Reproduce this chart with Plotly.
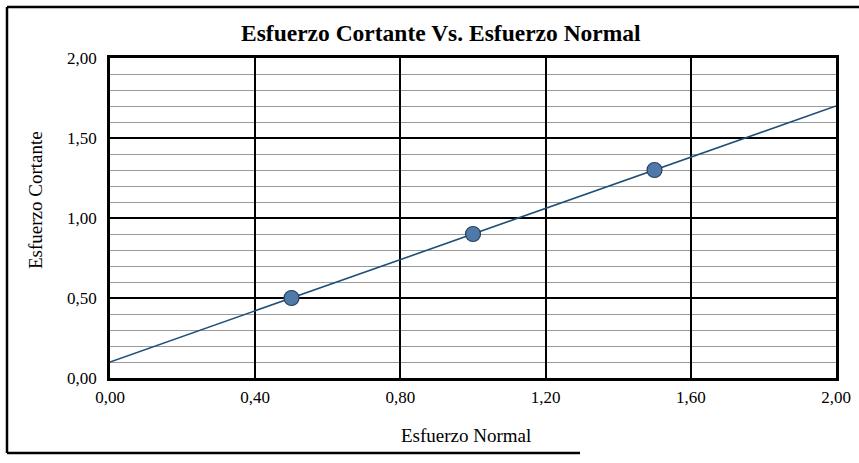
import numpy as np
import plotly.graph_objects as go

# Ensayo: esfuerzo normal vs. esfuerzo cortante
esfuerzo_normal = [0.50, 1.00, 1.50]
esfuerzo_cortante = [0.50, 0.90, 1.30]

x_ticks = [0.0, 0.4, 0.8, 1.2, 1.6, 2.0]
y_ticks = [0.0, 0.5, 1.0, 1.5, 2.0]

# Linear trend fitted to the measured points, drawn across the axis range
slope, intercept = np.polyfit(esfuerzo_normal, esfuerzo_cortante, 1)
trend_x = [x_ticks[0], x_ticks[-1]]
trend_y = [slope * v + intercept for v in trend_x]

serif = "Liberation Serif, Times New Roman, serif"

# plot area in pixels (used to place titles and the outer frame)
L, R, T, B = 110, 836, 58, 378
W, H = R - L, B - T


def px(x):
    return (x - L) / W


def py(y):
    return (B - y) / H


fig = go.Figure()
fig.add_trace(go.Scatter(
    x=trend_x, y=trend_y, mode="lines",
    line=dict(color="#1f4e79", width=1.6),
    hoverinfo="skip", showlegend=False,
))
fig.add_trace(go.Scatter(
    x=esfuerzo_normal, y=esfuerzo_cortante, mode="markers",
    marker=dict(size=15, color="#4f79a8", line=dict(color="#25405f", width=1.2)),
    showlegend=False,
))

fig.update_layout(
    width=859, height=463,
    margin=dict(l=L, r=859 - R, t=T, b=463 - B),
    paper_bgcolor="white", plot_bgcolor="white",
    separators=",.",
    font=dict(family=serif, size=16, color="black"),
    annotations=[
        dict(text="<b>Esfuerzo Cortante Vs. Esfuerzo Normal</b>",
             xref="paper", yref="paper", x=px(441), y=py(33),
             xanchor="center", yanchor="middle", showarrow=False,
             font=dict(family=serif, size=23.5, color="black")),
        dict(text="Esfuerzo Normal",
             xref="paper", yref="paper", x=px(466), y=py(435),
             xanchor="center", yanchor="middle", showarrow=False,
             font=dict(family=serif, size=19, color="black")),
        dict(text="Esfuerzo Cortante", textangle=-90,
             xref="paper", yref="paper", x=px(35), y=py(200),
             xanchor="center", yanchor="middle", showarrow=False,
             font=dict(family=serif, size=19, color="black")),
    ],
    shapes=[
        # outer frame of the chart
        dict(type="line", xref="paper", yref="paper",
             x0=px(7), x1=px(7), y0=py(453), y1=py(7),
             line=dict(color="black", width=2.5)),
        dict(type="line", xref="paper", yref="paper",
             x0=px(7), x1=px(860), y0=py(7), y1=py(7),
             line=dict(color="black", width=2.5)),
        dict(type="line", xref="paper", yref="paper",
             x0=px(7), x1=px(580), y0=py(453), y1=py(453),
             line=dict(color="black", width=2.5)),
    ],
)

fig.update_xaxes(
    range=[0, 2], tickvals=x_ticks, tickformat=".2f", automargin=False,
    showgrid=True, gridcolor="black", gridwidth=1.5,
    showline=True, linecolor="black", linewidth=2.5, mirror=True,
    zeroline=False, ticks="", ticklabelstandoff=2,
    tickfont=dict(family=serif, size=17),
)
fig.update_yaxes(
    range=[0, 2], tickvals=y_ticks, tickformat=".2f", automargin=False,
    showgrid=True, gridcolor="black", gridwidth=1.8,
    minor=dict(dtick=0.1, showgrid=True, gridcolor="#9a9a9a", gridwidth=1),
    showline=True, linecolor="black", linewidth=2.5, mirror=True,
    zeroline=False, ticks="", ticklabelstandoff=7,
    tickfont=dict(family=serif, size=17),
)

fig.write_html("out.html")
